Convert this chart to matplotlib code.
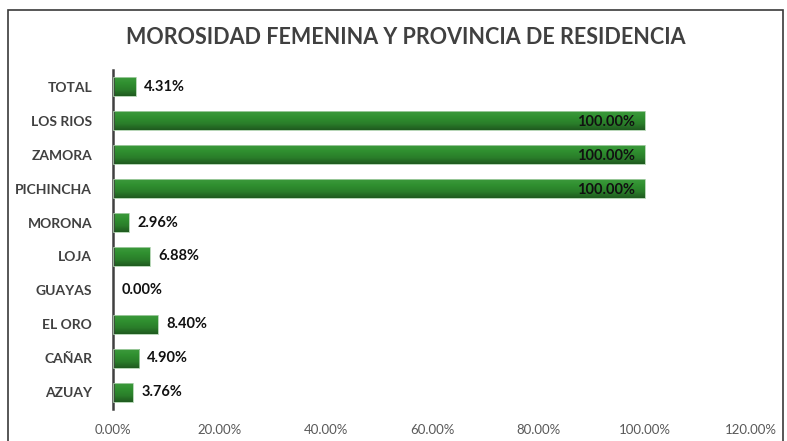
import matplotlib
matplotlib.use("Agg")
import matplotlib.pyplot as plt
import numpy as np
from matplotlib.patches import Rectangle
from matplotlib.colors import LinearSegmentedColormap

categories = ["TOTAL", "LOS RIOS", "ZAMORA", "PICHINCHA", "MORONA", "LOJA",
              "GUAYAS", "EL ORO", "CAÑAR", "AZUAY"]
values = [4.31, 100.00, 100.00, 100.00, 2.96, 6.88, 0.00, 8.40, 4.90, 3.76]
xticks = [0, 20, 40, 60, 80, 100, 120]
title = "MOROSIDAD FEMENINA Y PROVINCIA DE RESIDENCIA"

W, H = 787, 441
fig = plt.figure(figsize=(W/100, H/100), dpi=100)
fig.patch.set_facecolor("white")
# outer border
fig.add_artist(Rectangle((8/W, -0.05), (783-8)/W, 1.05 - 10/H, transform=fig.transFigure,
                         fill=False, edgecolor="#3a3a3a", linewidth=1.2))

ax = fig.add_axes([113/W, 1-409/H, (751-113)/W, (409-70)/H])
n = len(categories)
ypos = np.arange(n)[::-1]  # TOTAL on top
bh = 0.56
cmap = LinearSegmentedColormap.from_list("g", ["#1f5a1f", "#2a7d2a", "#2f8f2f", "#3c9a3c"])
grad = np.linspace(0, 1, 64).reshape(-1, 1)
for y, v in zip(ypos, values):
    if v > 0:
        ax.imshow(grad, cmap=cmap, aspect="auto", origin="lower",
                  extent=[0, v, y - bh/2, y + bh/2], zorder=2, interpolation="bilinear")
        ax.add_patch(Rectangle((0, y - bh/2), v, bh, fill=False, edgecolor="#a9cfa9",
                               linewidth=0.6, zorder=3))
    lbl = f"{v:.2f}%"
    if v >= 100:
        ax.annotate(lbl, (v, y), xytext=(-7, -1), textcoords="offset points",
                    ha="right", va="center", fontsize=10.5, fontweight="bold",
                    color="#111111", family="Lato", zorder=4)
    else:
        ax.annotate(lbl, (v, y), xytext=(6, 0), textcoords="offset points",
                    ha="left", va="center", fontsize=10.5, fontweight="bold",
                    color="#111111", family="Lato", zorder=4)

ax.set_xlim(0, 120)
ax.set_ylim(-0.5, n - 0.5)
ax.set_yticks(ypos)
ax.set_yticklabels(categories, fontsize=10, fontweight="bold", color="#404040", family="Lato")
ax.set_xticks(xticks)
ax.set_xticklabels([f"{t:.2f}%" for t in xticks], fontsize=9.5, color="#595959", family="Lato")
ax.tick_params(axis="both", length=0)
ax.tick_params(axis="y", pad=15)
ax.tick_params(axis="x", pad=11)
for s in ["top", "right", "bottom"]:
    ax.spines[s].set_visible(False)
ax.spines["left"].set_color("#404040")
ax.spines["left"].set_linewidth(1.8)

fig.text(406/W, 1-37/H, title, ha="center", va="center", fontsize=15.5,
         fontweight="bold", color="#404040", family="Lato")

fig.savefig("out.png", dpi=100)
